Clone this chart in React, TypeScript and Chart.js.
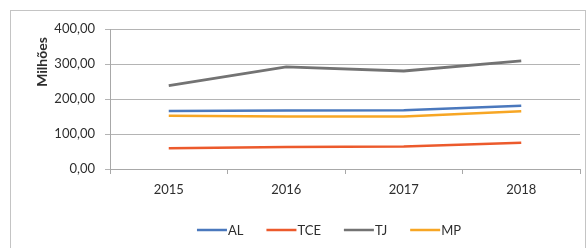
import React, { useEffect, useRef } from "react";
import { Chart, registerables } from "chart.js";

Chart.register(...registerables);

const categories = ["2015", "2016", "2017", "2018"];
const seriesNames = ["AL", "TCE", "TJ", "MP"];
const alValues = [166, 167, 168, 181];
const tceValues = [59, 63, 64, 75];
const tjValues = [238, 292, 280, 309];
const mpValues = [152, 150, 150, 165];
const seriesColors = ["#4a78bd", "#ec5a2c", "#737373", "#f7a624"];
const yTicks = [0, 100, 200, 300, 400];
const yTitle = "Milhões";

const FONT = "Lato, 'DejaVu Sans', sans-serif";
const TEXT = "#2e2e2e";

const overlayPlugin = {
  id: "overlay",
  afterDraw(chart: any) {
    const ctx = chart.ctx;
    const area = chart.chartArea;
    ctx.save();
    // y title
    ctx.font = "bold 14px " + FONT;
    ctx.fillStyle = TEXT;
    ctx.textAlign = "center";
    ctx.textBaseline = "middle";
    ctx.translate(42, 62);
    ctx.rotate(-Math.PI / 2);
    ctx.fillText(yTitle, 0, 0);
    ctx.restore();

    // legend
    ctx.save();
    ctx.font = "13px " + FONT;
    const lineW = 30;
    const gapText = 1;
    const gapItem = 23;
    const widths = chart.data.datasets.map(
      (d: any) => lineW + gapText + ctx.measureText(d.label).width
    );
    const total = widths.reduce((a: number, b: number) => a + b, 0) + gapItem * (widths.length - 1);
    let x = (area.left + area.right) / 2 - 16 - total / 2;
    const y = 230;
    chart.data.datasets.forEach((d: any, i: number) => {
      ctx.strokeStyle = d.borderColor;
      ctx.lineWidth = 2.5;
      ctx.beginPath();
      ctx.moveTo(x, y);
      ctx.lineTo(x + lineW, y);
      ctx.stroke();
      ctx.fillStyle = TEXT;
      ctx.textAlign = "left";
      ctx.textBaseline = "middle";
      ctx.fillText(d.label, x + lineW + gapText, y + 1);
      x += widths[i] + gapItem;
    });
    ctx.restore();
  },
};

export default function App() {
  const ref = useRef<HTMLCanvasElement>(null);
  useEffect(() => {
    if (!ref.current) return;
    const values = [alValues, tceValues, tjValues, mpValues];
    const chart = new Chart(ref.current, {
      type: "line",
      data: {
        labels: categories,
        datasets: seriesNames.map((name, i) => ({
          label: name,
          data: values[i],
          borderColor: seriesColors[i],
          backgroundColor: seriesColors[i],
          borderWidth: i === 2 ? 2.8 : 2.5,
          pointRadius: 0,
          tension: 0,
          fill: false,
        })),
      },
      options: {
        animation: false,
        responsive: false,
        maintainAspectRatio: false,
        devicePixelRatio: 1,
        layout: { padding: { top: 29, right: 7, bottom: 0, left: 0 } },
        plugins: { legend: { display: false }, tooltip: { enabled: false } },
        scales: {
          x: {
            offset: true,
            grid: {
              offset: true,
              drawOnChartArea: false,
              drawTicks: true,
              tickLength: 5,
              color: "#a8a8a8",
            },
            border: { display: true, color: "#a8a8a8", width: 1 },
            ticks: {
              font: { family: FONT, size: 13 },
              color: TEXT,
              padding: 8,
              maxRotation: 0,
            },
            afterFit: (s: any) => {
              s.height = 79;
            },
          },
          y: {
            min: 0,
            max: 400,
            afterBuildTicks: (s: any) => {
              s.ticks = yTicks.map((v) => ({ value: v }));
            },
            grid: { color: "#b4b4b4", tickLength: 5, lineWidth: 1 },
            border: { display: true, color: "#a8a8a8", width: 1 },
            ticks: {
              font: { family: FONT, size: 13 },
              color: TEXT,
              padding: 10,
              callback: (v: any) => Number(v).toFixed(2).replace(".", ","),
            },
            afterFit: (s: any) => {
              s.width = 110;
            },
          },
        },
      },
      plugins: [overlayPlugin],
    });
    return () => chart.destroy();
  }, []);

  return (
    <div style={{ position: "fixed", left: 0, top: 0, width: 587, height: 248, background: "#fff", overflow: "hidden" }}>
      <div
        style={{
          position: "absolute",
          left: 10,
          top: 10,
          width: 574,
          height: 260,
          border: "1px solid #c4c4c4",
        }}
      />
      <canvas ref={ref} width={587} height={248} style={{ position: "absolute", left: 0, top: 0, width: 587, height: 248 }} />
    </div>
  );
}
